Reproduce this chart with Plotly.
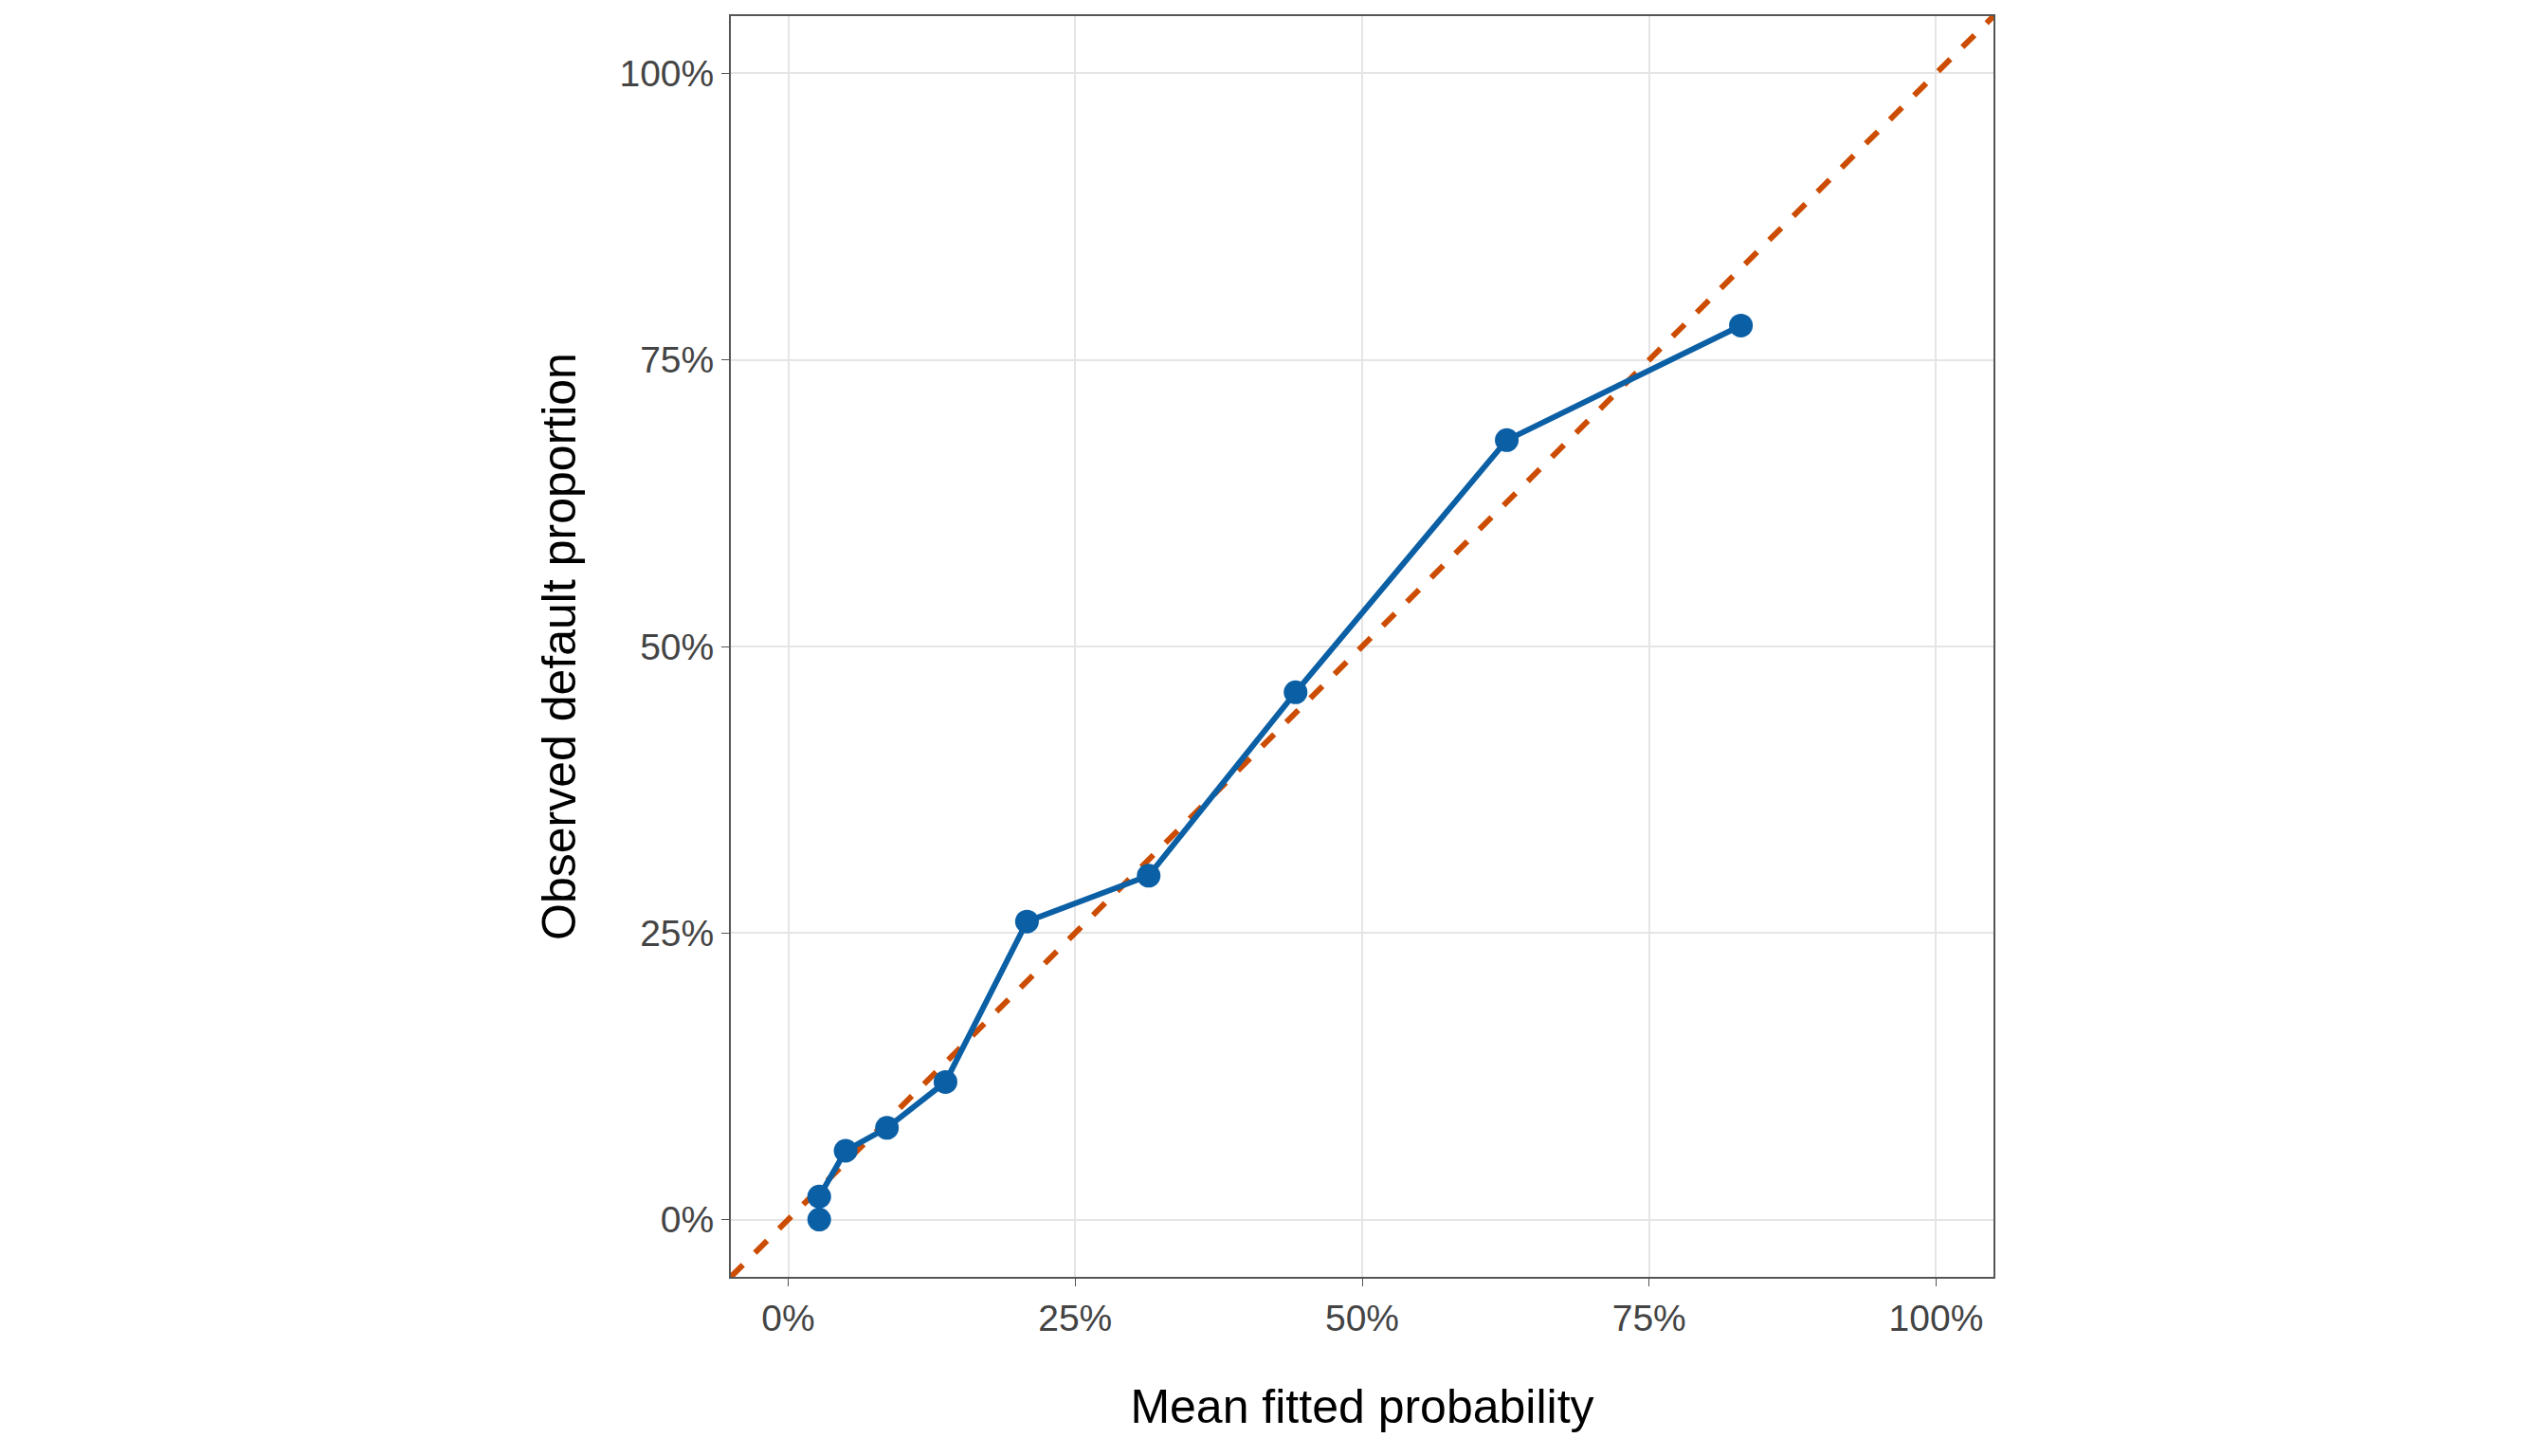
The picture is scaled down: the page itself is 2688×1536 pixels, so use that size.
import plotly.graph_objects as go

mean_fitted = [0.027, 0.027, 0.05, 0.086, 0.137, 0.208, 0.314, 0.442, 0.626, 0.83]
observed = [0.0, 0.02, 0.06, 0.08, 0.12, 0.26, 0.30, 0.46, 0.68, 0.78]
diag = [-0.05, 1.05]
tick_vals = [0, 0.25, 0.5, 0.75, 1.0]
tick_text = ["0%", "25%", "50%", "75%", "100%"]

fig = go.Figure()
fig.add_trace(go.Scatter(x=diag, y=diag, mode="lines",
                         line=dict(color="#CC4C02", width=6, dash="dash"),
                         showlegend=False))
fig.add_trace(go.Scatter(x=mean_fitted, y=observed, mode="lines+markers",
                         line=dict(color="#0B5FA5", width=6),
                         marker=dict(color="#0B5FA5", size=25),
                         showlegend=False))

axis = dict(range=[-0.05, 1.05], tickvals=tick_vals, ticktext=tick_text,
            showgrid=True, gridcolor="#E5E5E5", gridwidth=2,
            zeroline=False, showline=True, linecolor="#555555", linewidth=2,
            mirror=True, ticks="outside", ticklen=8, tickcolor="#555555",
            tickfont=dict(size=39, color="#444444"))

fig.update_layout(
    width=2688, height=1536,
    margin=dict(l=763, r=593, t=7, b=197),
    plot_bgcolor="white", paper_bgcolor="white",
    font=dict(family="Liberation Sans, Arial, sans-serif"),
    xaxis=dict(axis, title=dict(text="Mean fitted probability",
                                font=dict(size=50, color="black"), standoff=55)),
    yaxis=dict(axis, title=dict(text="Observed default proportion",
                                font=dict(size=50, color="black"), standoff=30)),
)

fig.write_html("out.html")
